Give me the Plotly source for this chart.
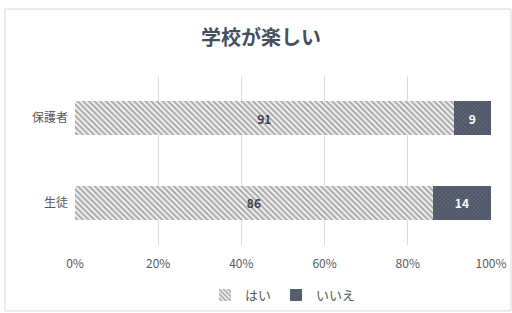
import plotly.graph_objects as go

categories = ["生徒", "保護者"]
yes_values = [86, 91]
no_values = [14, 9]
series_names = ["はい", "いいえ"]
tick_vals = [0, 20, 40, 60, 80, 100]
tick_text = ["0%", "20%", "40%", "60%", "80%", "100%"]
title_text = "学校が楽しい"

FONT = "Noto Sans CJK JP"

fig = go.Figure()
fig.add_trace(go.Bar(
    y=categories, x=yes_values, name=series_names[0], orientation="h",
    text=[str(v) for v in yes_values], textposition="inside", insidetextanchor="middle",
    textfont=dict(color="#3c4350", size=12, family=FONT, weight="bold"),
    marker=dict(color="white", line=dict(width=0),
                pattern=dict(shape="\\", size=4, solidity=0.5, fgcolor="#5a5a5a", bgcolor="#f4f4f4")),
))
fig.add_trace(go.Bar(
    y=categories, x=no_values, name=series_names[1], orientation="h",
    text=[str(v) for v in no_values], textposition="inside", insidetextanchor="middle",
    textfont=dict(color="white", size=12, family=FONT, weight="bold"),
    marker=dict(color="#4e5668", line=dict(width=0),
                pattern=dict(shape="x", size=3, solidity=0.3, fgcolor="#8d93a0", bgcolor="#4e5668")),
))

fig.update_layout(
    barmode="stack", bargap=0.6,
    width=512, height=313,
    margin=dict(l=75, r=21, t=76, b=68, autoexpand=False),
    paper_bgcolor="white", plot_bgcolor="white",
    font=dict(family=FONT, color="#595959", size=12),
    title=dict(text=title_text, x=0.51, xanchor="center", y=0.878, yanchor="middle",
               font=dict(size=20, color="#44505f", family=FONT, weight="bold")),
    xaxis=dict(range=[0, 100], tickvals=tick_vals, ticktext=tick_text, showgrid=True,
               gridcolor="#dcdcdc", gridwidth=1, zeroline=False, showline=False,
               tickfont=dict(size=12, color="#595959"), ticklabelstandoff=10, automargin=False),
    yaxis=dict(showgrid=False, zeroline=False, showline=False, automargin=False,
               tickfont=dict(size=12, color="#595959"), ticklabelstandoff=6),
    legend=dict(orientation="h", x=0.5, xanchor="center", yref="container", y=0.057, yanchor="middle",
                font=dict(size=13, color="#595959"), itemwidth=30, traceorder="normal"),
    showlegend=True,
    shapes=[dict(type="rect", xref="paper", yref="paper", x0=-0.168, x1=1.048, y0=-0.39, y1=1.396,
                 line=dict(color="#d9d9d9", width=1), fillcolor="rgba(0,0,0,0)", layer="below")],
)

fig.write_html("out.html", config={"displayModeBar": False},
               post_script="document.body.style.margin='0';document.body.style.padding='0';")
